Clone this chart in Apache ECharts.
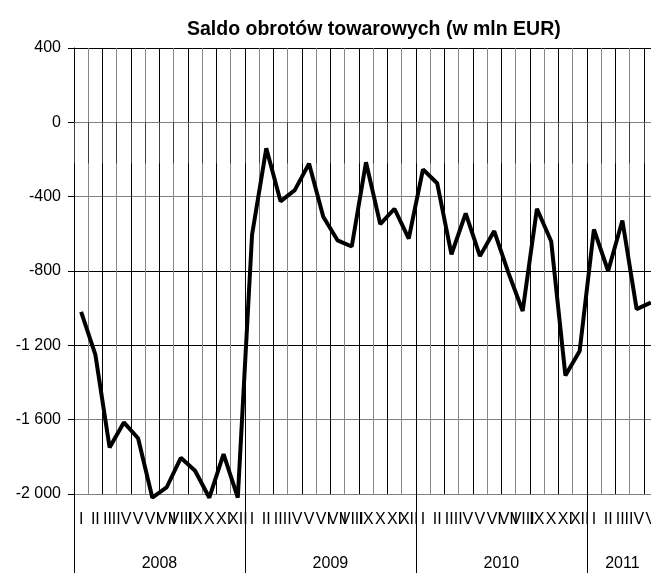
<!DOCTYPE html>
<html>
<head>
<meta charset="utf-8">
<script src="https://cdn.jsdelivr.net/npm/echarts@6/dist/echarts.min.js"></script>
<style>
html,body{margin:0;padding:0;background:#fff;}
#chart{width:651px;height:573px;}
</style>
</head>
<body>
<div id="chart"></div>
<script>
// months Jan 2008 .. May 2011
let romans = ['I','II','III','IV','V','VI','VII','VIII','IX','X','XI','XII'];
let years = ['2008','2009','2010','2011'];
let saldo = [
    -1020,-1250,-1750,-1615,-1700,-2020,-1965,-1805,-1875,-2020,-1785,-2020,
    -605,-140,-425,-365,-222,-508,-635,-668,-215,-548,-465,-626,
    -253,-328,-710,-490,-720,-585,-810,-1015,-465,-640,-1362,-1230,
    -576,-800,-528,-1005,-970
];

let months = [];
for(let i=0;i<saldo.length;i++){
    months.push(romans[i%12]);
}
// year axis: half-month slots so the labels sit in the middle of each year
let yearSlots = [];
for(let k=0;k<=saldo.length*2;k++){
    yearSlots.push('');
}
yearSlots[12]=years[0];
yearSlots[36]=years[1];
yearSlots[60]=years[2];
yearSlots[77]=years[3];

let font = 'Liberation Sans';

function fmt(v){
    let s = String(Math.abs(v));
    if(s.length>3){
        s = s.slice(0,s.length-3)+' '+s.slice(s.length-3);
    }
    return (v<0?'-':'')+s;
}

echarts.init(document.getElementById('chart')).setOption({
    animation:false,
    title:{
        text:'Saldo obrotów towarowych (w mln EUR)',
        left:182,
        top:15,
        textStyle:{
            fontFamily:font,
            fontSize:19.5,
            fontWeight:'bold',
            color:'#000'
        }
    },
    grid:{
        left:74,
        top:48,
        width:584,
        height:446,
        outerBoundsMode:'none'
    },
    xAxis:[
        {
            type:'category',
            position:'bottom',
            data:months,
            boundaryGap:true,
            axisLine:{show:true,lineStyle:{color:'#808080',width:1}},
            axisTick:{show:true,length:41,interval:0,lineStyle:{color:'#404040'}},
            axisLabel:{
                interval:0,
                hideOverlap:false,
                margin:18,
                fontFamily:font,
                fontSize:16,
                color:'#000'
            },
            splitLine:{show:true,interval:0,lineStyle:{color:['#000','#888'],width:1}}
        },
        {
            type:'category',
            position:'bottom',
            data:yearSlots,
            boundaryGap:false,
            axisLine:{show:false},
            axisTick:{
                show:true,
                length:80,
                interval:function(idx){return idx%24===0;},
                lineStyle:{color:'#000'}
            },
            axisLabel:{
                interval:0,
                margin:62,
                fontFamily:font,
                fontSize:16,
                color:'#000'
            },
            splitLine:{show:false}
        }
    ],
    yAxis:{
        type:'value',
        min:-2000,
        max:400,
        interval:400,
        axisLine:{show:true,lineStyle:{color:'#000'}},
        axisTick:{show:true,length:6,lineStyle:{color:'#000'}},
        axisLabel:{
            margin:13,
            fontFamily:font,
            fontSize:16,
            color:'#000',
            formatter:fmt
        },
        splitLine:{
            show:true,
            lineStyle:{color:['#808080','#808080','#000','#000','#808080','#000','#000'],width:1}
        }
    },
    series:[
        {
            name:'Saldo',
            type:'line',
            xAxisIndex:0,
            data:saldo,
            symbol:'none',
            clip:false,
            lineStyle:{color:'#000',width:4}
        }
    ]
});
</script>
</body>
</html>
